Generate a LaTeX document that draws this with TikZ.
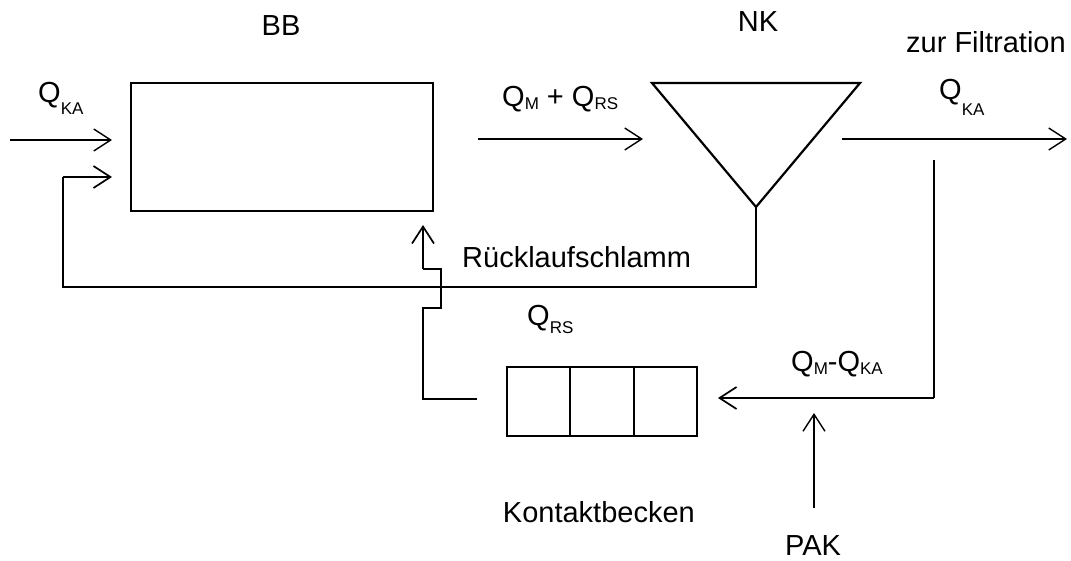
\documentclass[tikz,border=0pt]{standalone}
\usepackage{fontspec}
\setmainfont{Liberation Sans}
\usetikzlibrary{arrows.meta}
\newcommand\lowsub[2]{\raisebox{-#1pt}{\fontsize{17}{17}\selectfont #2}}
\begin{document}
\begin{tikzpicture}[x=1pt,y=-1pt,
  lbl/.style={font=\fontsize{29}{33}\selectfont, inner sep=0pt},
  boxst/.style={draw, line width=2.2pt, inner sep=0pt},
  flow/.style={line width=1.7pt},
  arr/.style={line width=1.4pt, -{Straight Barb[length=17pt,width=22pt]}}]
\useasboundingbox (0,0) rectangle (1071,560);
% nodes
\node[boxst, minimum width=302pt, minimum height=128pt] (bb) at (282,147) {};
\node[boxst, minimum width=63.3pt, minimum height=69pt] (kb1) at (538.7,401.5) {};
\node[boxst, minimum width=63.3pt, minimum height=69pt] (kb2) at (602,401.5) {};
\node[boxst, minimum width=63.3pt, minimum height=69pt] (kb3) at (665.3,401.5) {};
% clarifier triangle
\coordinate (nkL) at (652,83);
\coordinate (nkR) at (860,83);
\coordinate (nkB) at (756,207);
\draw[line width=2.2pt, line join=miter] (nkL) -- (nkR) -- (nkB) -- cycle;
% coordinates
\coordinate (in) at (10,140);
\coordinate (inTip) at (112,140);
\coordinate (rsDown) at (756,287);
\coordinate (rsLeft) at (63,287);
\coordinate (rsUp) at (63,177);
\coordinate (rsTip) at (112,177);
\coordinate (mStart) at (478,139);
\coordinate (mTip) at (643,139);
\coordinate (outStart) at (842,139);
\coordinate (outTip) at (1067,139);
\coordinate (sStart) at (934,160);
\coordinate (sCorner) at (934,398);
\coordinate (sTip) at (718,398);
\coordinate (pakStart) at (814,508);
\coordinate (pakTip) at (814,413);
\coordinate (bStart) at (477,399);
\coordinate (b1) at (423,399);
\coordinate (b2) at (423,308);
\coordinate (b3) at (441,308);
\coordinate (b4) at (441,269);
\coordinate (b5) at (423,269);
\coordinate (bTip) at (423,225);
% connectors
\draw[arr] (in) -- (inTip);
\draw[flow] (nkB) -- (rsDown) -- (rsLeft) -- (rsUp);
\draw[arr, line width=1.7pt] (rsUp) -- (rsTip);
\draw[arr] (mStart) -- (mTip);
\draw[arr] (outStart) -- (outTip);
\draw[flow] (sStart) -- (sCorner);
\draw[arr, line width=1.7pt] (sCorner) -- (sTip);
\draw[arr] (pakStart) -- (pakTip);
\draw[flow, line join=miter] (bStart) -- (b1) -- (b2) -- (b3) -- (b4) -- (b5);
\draw[arr, line width=1.7pt] (b5) -- (bTip);
% labels
\node[lbl] (tBB) at (281,26) {BB};
\node[lbl] (tNK) at (758,22) {NK};
\node[lbl, anchor=base west] (tFil) at (906,52) {zur Filtration};
\node[lbl, anchor=base west] (tQin) at (38,102) {Q\lowsub{12}{KA}};
\node[lbl, anchor=base west] (tQm) at (502,106) {Q\lowsub{3}{M} + Q\lowsub{3}{RS}};
\node[lbl, anchor=base west] (tQout) at (939,99) {Q\lowsub{16}{KA}};
\node[lbl, anchor=base west] (tRL) at (462,267) {Rücklaufschlamm};
\node[lbl, anchor=base west] (tQrs) at (527,325) {Q\lowsub{8}{RS}};
\node[lbl, anchor=base west] (tQmka) at (791,371) {Q\lowsub{3}{M}-Q\lowsub{3}{KA}};
\node[lbl, anchor=base east] (tKB) at (695,522) {Kontaktbecken};
\node[lbl, anchor=base] (tPAK) at (813,555) {PAK};
\end{tikzpicture}
\end{document}
